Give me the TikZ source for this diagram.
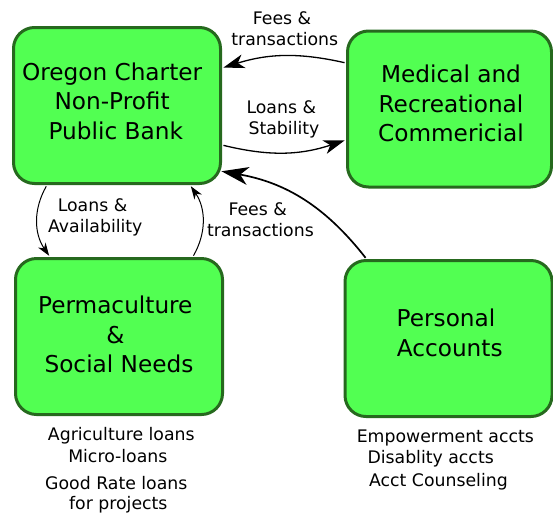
\documentclass[tikz,border=0pt]{standalone}
\usepackage{fontspec}
\setmainfont{DejaVu Sans}
\usetikzlibrary{arrows.meta}
\definecolor{boxfill}{RGB}{82,255,82}
\definecolor{boxline}{RGB}{38,105,30}
\begin{document}
\begin{tikzpicture}[x=1pt,y=-1pt,
  box/.style={draw=boxline, fill=boxfill, line width=3pt, rounded corners=21pt,
    minimum width=207pt, minimum height=156pt, inner sep=0pt},
  boxtext/.style={font=\fontsize{23.2}{29.3}\selectfont, align=center, inner sep=0pt},
  lab/.style={font=\fontsize{17.3}{21}\selectfont, align=center, inner sep=0pt},
  note/.style={font=\fontsize{17.3}{21}\selectfont, inner sep=0pt},
  flowbig/.style={line width=1.3pt, shorten >=1.5pt, shorten <=1.5pt,
    -{Stealth[length=21pt,width=14pt,inset=6pt]}},
  flowsmall/.style={line width=1pt, shorten >=1.5pt, shorten <=1.5pt,
    -{Stealth[length=13pt,width=9pt,inset=4pt]}},
  flowwide/.style={line width=1.7pt, shorten >=1.5pt, shorten <=1.5pt,
    -{Stealth[length=27pt,width=18pt,inset=8pt]}},
]
\useasboundingbox (0,0) rectangle (553,512);

% boxes
\node[box] (bank) at (117,105.5) {};
\node[box, minimum width=204pt] (med) at (449.5,109) {};
\node[box] (perm) at (119,336.5) {};
\node[box] (pers) at (448.5,338.5) {};

% box texts
\node[boxtext] (banktxt) at (115.8,101.2) {Oregon Charter\hphantom{\ }\\Non-Profit\hphantom{\ }\\Public Bank};
\node[boxtext] (medtxt) at (451,103.6) {Medical and\\Recreational\\Commericial};
\node[boxtext] (permtxt) at (119,334.6) {Permaculture\hphantom{\ }\\\&\hphantom{\ }\\Social Needs};
\node[boxtext] (perstxt) at (449.7,332.8) {Personal\hphantom{\ }\\Accounts};

% connectors
\draw[flowbig] ([yshift=46pt]med.west) to[bend right=15] ([yshift=37.5pt]bank.east);
\draw[flowbig] ([yshift=-39.5pt]bank.east) to[bend right=16] ([yshift=-31pt]med.west);
\draw[flowsmall] ([xshift=-70pt]bank.south) to[bend right=32] ([xshift=-69pt]perm.north);
\draw[flowsmall] ([xshift=73.7pt]perm.north) to[bend right=32] ([xshift=73pt]bank.south);
\coordinate (bankcorner) at ([xshift=103pt,yshift=-65.5pt]bank.center);
\draw[flowwide] ([xshift=-82pt]pers.north) to[bend right=21] (bankcorner);

% connector labels
\node[lab] (l1) at (284.8,29) {Fees \&\hphantom{\ }\\transactions};
\node[lab] (l2) at (284,119.7) {Loans \&\hphantom{\ }\\Stability};
\node[lab] (l3) at (95.3,217.5) {Loans \&\hphantom{\ }\\Availability};
\node[lab] (l4) at (260.4,219.5) {Fees \&\hphantom{\ }\\transactions};

% notes
\node[note, anchor=base] (n1) at (121.3,440) {Agriculture loans};
\node[note, anchor=base] (n2) at (117.8,462.3) {Micro-loans};
\node[note, anchor=base] (n3) at (116.3,489) {Good Rate loans};
\node[note, anchor=base] (n4) at (118.3,509.5) {for projects};
\node[note, anchor=base west] (n5) at (356.6,442.3) {Empowerment accts};
\node[note, anchor=base west] (n6) at (367.3,463.3) {Disablity accts};
\node[note, anchor=base west] (n7) at (368.9,486.7) {Acct Counseling};
\end{tikzpicture}
\end{document}
